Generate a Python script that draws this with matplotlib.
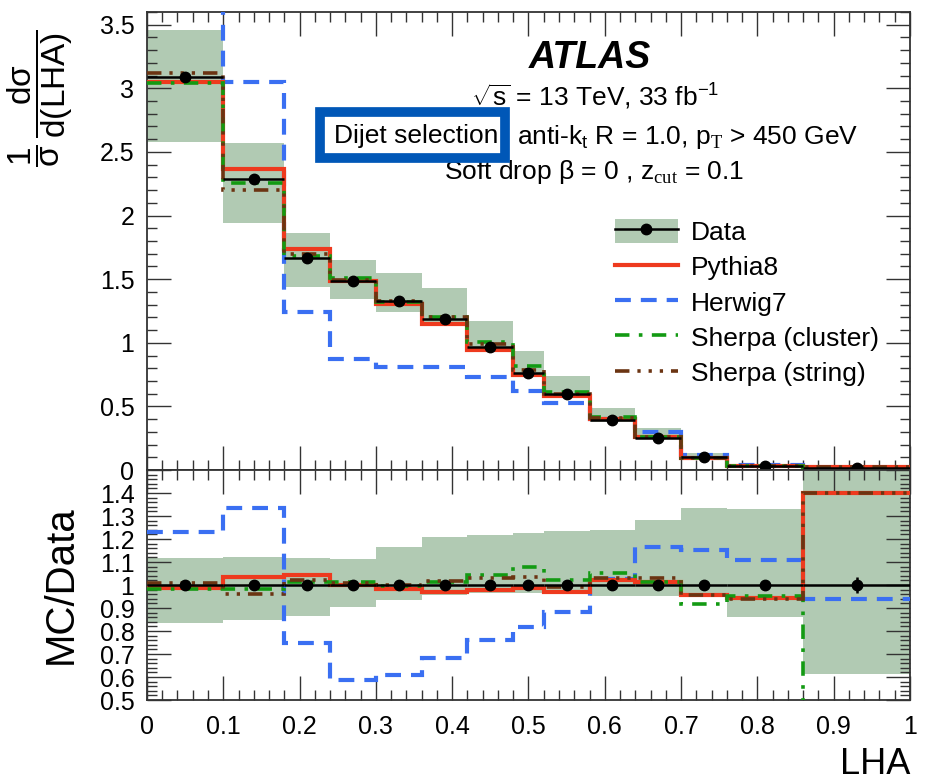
import numpy as np
import matplotlib
matplotlib.use("Agg")
import matplotlib.pyplot as plt
from matplotlib.patches import Patch, Rectangle
from matplotlib.lines import Line2D
from matplotlib.ticker import MultipleLocator, FixedLocator, FuncFormatter

plt.rcParams['font.family'] = ['Liberation Sans', 'DejaVu Sans']
plt.rcParams['mathtext.fontset'] = 'custom'
plt.rcParams['mathtext.rm'] = 'Liberation Serif'
plt.rcParams['mathtext.it'] = 'Liberation Sans:italic'
plt.rcParams['mathtext.bf'] = 'Liberation Sans:bold'
plt.rcParams['mathtext.sf'] = 'Liberation Sans'

# ---- binning and measured distribution ----
bin_edges = [0.0, 0.10, 0.18, 0.24, 0.30, 0.36, 0.42, 0.48, 0.52, 0.58, 0.64, 0.70, 0.76, 0.86, 1.0]
data_values = [3.09, 2.29, 1.665, 1.485, 1.325, 1.185, 0.965, 0.76, 0.60, 0.395, 0.255, 0.10, 0.033, 0.015]
data_stat_rel = [0.002, 0.002, 0.002, 0.002, 0.002, 0.002, 0.002, 0.002, 0.003, 0.003, 0.004, 0.006, 0.01, 0.035]

# total uncertainty band, relative to data
band_up = [1.119, 1.123, 1.119, 1.113, 1.167, 1.21, 1.217, 1.228, 1.237, 1.239, 1.283, 1.333, 1.329, 1.60]
band_down = [0.834, 0.848, 0.866, 0.906, 0.935, 0.957, 0.967, 0.967, 0.962, 0.952, 0.952, 0.952, 0.862, 0.613]

# generator predictions, as MC/Data
pythia8_ratio = [0.986, 1.033, 1.043, 1.0, 0.983, 0.970, 0.978, 0.986, 0.971, 1.022, 1.015, 0.957, 0.942, 1.401]
herwig7_ratio = [1.232, 1.333, 0.746, 0.587, 0.609, 0.684, 0.761, 0.819, 0.884, 1.025, 1.164, 1.152, 1.109, 0.938]
sherpa_cluster_ratio = [0.984, 0.984, 1.012, 1.015, 0.996, 1.015, 1.043, 1.077, 1.022, 1.051, 1.015, 0.917, 0.952, 0.0]
sherpa_string_ratio = [1.010, 0.961, 1.022, 1.008, 1.000, 1.017, 1.029, 1.036, 0.993, 1.029, 1.029, 0.957, 0.938, 1.40]

x_tick_values = [0, 0.1, 0.2, 0.3, 0.4, 0.5, 0.6, 0.7, 0.8, 0.9, 1.0]
ratio_tick_values = [0.5, 0.6, 0.7, 0.8, 0.9, 1.0, 1.1, 1.2, 1.3, 1.4, 1.5]

edges = np.array(bin_edges)
centers = 0.5 * (edges[:-1] + edges[1:])
half_w = 0.5 * np.diff(edges)
data = np.array(data_values)

BAND = '#b1cab3'
RED = '#ee3a1e'
BLUE = '#3a6ff2'
GREEN = '#139a13'
BROWN = '#6b3412'

styles = [
    ('Herwig7', herwig7_ratio, BLUE, 3.0, (0, (3.8, 2.4))),
    ('Pythia8', pythia8_ratio, RED, 3.0, 'solid'),
    ('Sherpa (cluster)', sherpa_cluster_ratio, GREEN, 2.6, (0, (4.0, 2.6, 1.0, 2.6))),
    ('Sherpa (string)', sherpa_string_ratio, BROWN, 2.6, (0, (4.0, 2.2, 0.9, 2.2, 0.9, 2.2, 0.9, 2.2))),
]

fig = plt.figure(figsize=(9.26, 7.83), dpi=100)
ax1 = fig.add_axes([0.1587, 0.3997, 0.8240, 0.5850])
ax2 = fig.add_axes([0.1587, 0.1060, 0.8240, 0.2937], sharex=ax1)

# ---- upper panel: normalised distribution ----
ax1.stairs(data * np.array(band_up), edges, baseline=data * np.array(band_down),
           fill=True, color=BAND, lw=0, zorder=1)
for name, ratio, col, lw, ls in styles:
    ax1.stairs(data * np.array(ratio), edges, baseline=None, color=col, lw=lw,
               linestyle=ls, zorder=3)
ax1.errorbar(centers, data, xerr=half_w, yerr=data * np.array(data_stat_rel),
             fmt='o', color='black', ms=7.5, lw=1.8, capsize=0, zorder=5)

# ---- lower panel: MC / Data ----
ax2.stairs(band_up, edges, baseline=band_down, fill=True, color=BAND, lw=0, zorder=1)
for name, ratio, col, lw, ls in styles:
    ax2.stairs(ratio, edges, baseline=None, color=col, lw=lw, linestyle=ls, zorder=3)
ax2.errorbar(centers, np.ones_like(centers), xerr=half_w, yerr=data_stat_rel,
             fmt='o', color='black', ms=7.5, lw=1.8, capsize=0, zorder=5)

ax1.set_xlim(0, 1)
ax1.set_ylim(0, 3.6)
ax2.set_ylim(0.5, 1.5)

fmt = FuncFormatter(lambda v, p: '%g' % round(v, 3))
for ax in (ax1, ax2):
    ax.xaxis.set_major_locator(FixedLocator(x_tick_values))
    ax.xaxis.set_minor_locator(MultipleLocator(0.02))
    ax.tick_params(which='both', direction='in', top=True, right=True, width=1.0,
                   color='#333333', labelsize=18, pad=9)
    ax.tick_params(which='major', length=17)
    ax.tick_params(which='minor', length=7.5)
    for s in ax.spines.values():
        s.set_linewidth(1.3)
        s.set_color('#333333')

ax1.yaxis.set_major_locator(MultipleLocator(0.5))
ax1.yaxis.set_minor_locator(MultipleLocator(0.1))
ax1.yaxis.set_major_formatter(fmt)
ax1.tick_params(labelbottom=False)

ax2.yaxis.set_major_locator(FixedLocator(ratio_tick_values))
ax2.yaxis.set_minor_locator(MultipleLocator(0.02))
ax2.yaxis.set_major_formatter(FuncFormatter(lambda v, p: '' if v > 1.45 else '%g' % round(v, 3)))
ax2.xaxis.set_major_formatter(fmt)
ax2.tick_params(axis='x', pad=11)

ax1.set_ylabel(r'$\dfrac{\mathsf{1}}{\mathsf{σ}}\,\dfrac{\mathsf{dσ}}{\mathsf{d(LHA)}}$', fontsize=24)
ax1.yaxis.set_label_coords(-0.094, 0.812)
ax2.set_ylabel('MC/Data', fontsize=29)
ax2.yaxis.set_label_coords(-0.088, 0.5)
ax2.set_xlabel('LHA', fontsize=26, loc='right')
ax2.xaxis.set_label_coords(1.0, -0.205)

# ---- annotations ----
ax1.text(0.581, 0.900, 'ATLAS', fontsize=27, fontweight='bold', fontstyle='italic',
         ha='center', va='center', transform=ax1.transAxes)
ax1.text(0.588, 0.814, r'$\sqrt{\mathsf{s}}$ = 13 TeV, 33 fb$^{\mathsf{-1}}$', fontsize=19,
         ha='center', va='center', transform=ax1.transAxes)
ax1.text(0.485, 0.727, r'anti-k$_{\mathsf{t}}$ R = 1.0, p$_{\mathrm{T}}$ > 450 GeV', fontsize=19,
         ha='left', va='center', transform=ax1.transAxes)
ax1.text(0.586, 0.651, r'Soft drop β = 0 , z$_{\mathrm{cut}}$ = 0.1', fontsize=19,
         ha='center', va='center', transform=ax1.transAxes)
ax1.add_patch(Rectangle((0.2265, 0.682), 0.243, 0.100, transform=ax1.transAxes,
                        facecolor='white', edgecolor='#0057b7', lw=7, zorder=6))
ax1.text(0.353, 0.730, 'Dijet selection', fontsize=19, ha='center', va='center',
         transform=ax1.transAxes, zorder=7)

# ---- legend ----
handles = [
    (Patch(facecolor=BAND, edgecolor='none'), Line2D([], [], color='black', marker='o', ms=7.5, lw=1.8)),
    Line2D([], [], color=RED, lw=3.0),
    Line2D([], [], color=BLUE, lw=3.0, linestyle=(0, (3.8, 2.4))),
    Line2D([], [], color=GREEN, lw=2.6, linestyle=(0, (4.0, 2.6, 1.0, 2.6))),
    Line2D([], [], color=BROWN, lw=2.6, linestyle=(0, (4.0, 2.2, 0.9, 2.2, 0.9, 2.2, 0.9, 2.2))),
]
labels = ['Data', 'Pythia8', 'Herwig7', 'Sherpa (cluster)', 'Sherpa (string)']
ax1.legend(handles, labels, loc='upper left', bbox_to_anchor=(0.613, 0.548), frameon=False,
           fontsize=19, handlelength=2.4, handleheight=1.0, handletextpad=0.5,
           labelspacing=0.36, borderpad=0, borderaxespad=0)

fig.savefig('out.png', dpi=100)
